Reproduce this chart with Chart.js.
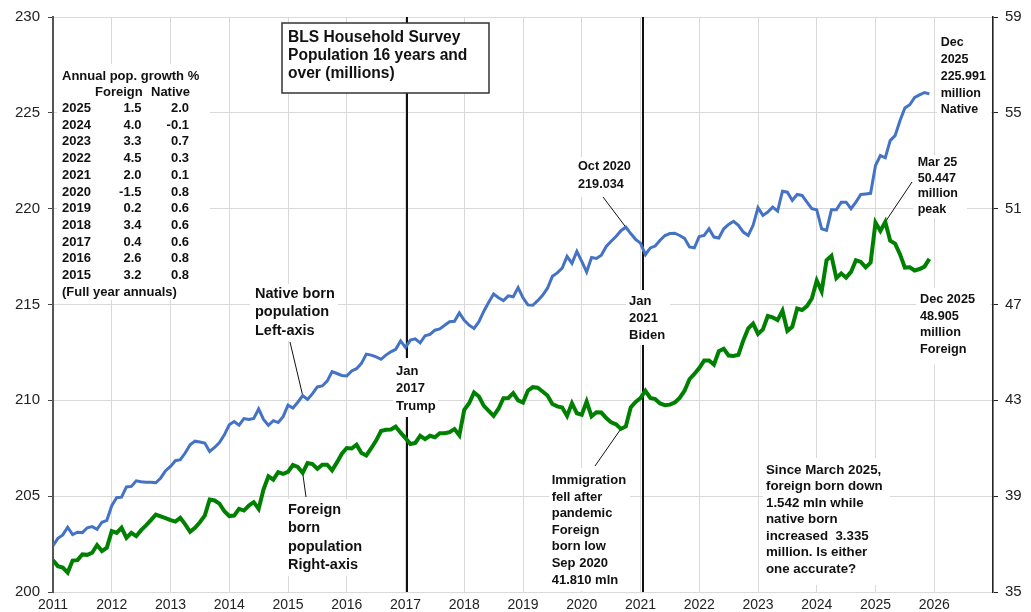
<!DOCTYPE html>
<html>
<head>
<meta charset="utf-8">
<script src="https://cdn.jsdelivr.net/npm/chart.js@4.4.1/dist/chart.umd.min.js"></script>
<style>
  html, body { margin: 0; padding: 0; background: #fff; }
  canvas { display: block; }
</style>
</head>
<body>
<canvas id="grafico" width="1031" height="612"></canvas>
<script>
// Popolazione nativa (milioni, asse sinistro), mensile gen 2011 - dic 2025
const nativeBorn = [
  202.42, 202.80, 202.98, 203.38, 203.00, 203.12, 203.10, 203.35, 203.41, 203.27, 203.64, 203.74,
  204.50, 204.92, 204.95, 205.48, 205.51, 205.80, 205.75, 205.73, 205.72, 205.70, 205.95, 206.33,
  206.55, 206.85, 206.90, 207.25, 207.68, 207.87, 207.83, 207.77, 207.33, 207.54, 207.80, 208.20,
  208.72, 208.89, 208.70, 209.05, 209.00, 209.05, 209.55, 209.00, 208.70, 208.94, 208.84, 209.15,
  209.75, 209.60, 209.90, 210.25, 210.05, 210.35, 210.70, 210.75, 211.00, 211.50, 211.40, 211.30,
  211.27, 211.53, 211.65, 211.93, 212.41, 212.36, 212.27, 212.14, 212.36, 212.53, 212.66, 213.10,
  212.76, 213.14, 213.21, 213.00, 213.37, 213.44, 213.66, 213.73, 213.92, 214.10, 214.12, 214.56,
  214.18, 213.92, 213.75, 214.10, 214.65, 215.12, 215.55, 215.35, 215.20, 215.45, 215.40, 215.88,
  215.35, 214.98, 214.96, 215.20, 215.48, 215.85, 216.47, 216.65, 216.90, 217.51, 217.15, 217.77,
  217.25, 216.70, 217.45, 217.40, 217.57, 218.03, 218.30, 218.55, 218.85, 219.034, 218.70, 218.40,
  218.20, 217.60, 217.95, 218.05, 218.35, 218.60, 218.70, 218.72, 218.60, 218.45, 218.00, 217.96,
  218.55, 218.60, 218.95, 218.52, 218.47, 218.95, 219.18, 219.34, 219.13, 218.78, 218.60, 219.13,
  220.05, 219.65, 219.82, 220.08, 219.87, 220.91, 220.86, 220.43, 220.74, 220.69, 220.34, 220.00,
  219.94, 218.95, 218.87, 219.94, 219.94, 220.34, 220.34, 220.00, 220.34, 220.74, 220.77, 220.80,
  222.25, 222.77, 222.656, 223.55, 223.81, 224.59, 225.25, 225.42, 225.80, 225.94, 226.06, 225.991
];

// Popolazione nata all'estero (milioni, asse destro)
const foreignBorn = [
  36.32, 36.08, 36.02, 35.81, 36.31, 36.33, 36.57, 36.55, 36.64, 36.96, 36.71, 36.85,
  37.54, 37.47, 37.68, 37.26, 37.47, 37.33, 37.58, 37.78, 38.00, 38.23, 38.16, 38.08,
  38.00, 37.94, 38.10, 37.82, 37.51, 37.68, 37.91, 38.19, 38.86, 38.82, 38.69, 38.37,
  38.17, 38.19, 38.47, 38.40, 38.61, 38.75, 38.47, 39.28, 39.83, 39.69, 40.00, 39.93,
  40.01, 40.30, 40.22, 39.97, 40.38, 40.34, 40.14, 40.31, 40.31, 40.08, 40.41, 40.77,
  41.01, 40.99, 41.15, 40.80, 40.70, 41.00, 41.32, 41.72, 41.77, 41.78, 41.90, 41.65,
  41.42, 41.18, 41.22, 41.52, 41.38, 41.52, 41.46, 41.63, 41.63, 41.67, 41.80, 41.54,
  42.60, 42.88, 43.33, 43.16, 42.77, 42.56, 42.35, 42.65, 43.09, 43.10, 43.30, 43.00,
  42.91, 43.40, 43.55, 43.53, 43.37, 43.20, 42.85, 42.75, 42.70, 42.35, 42.88, 42.46,
  42.40, 42.95, 42.33, 42.50, 42.49, 42.26, 42.08, 42.00, 41.81, 41.91, 42.70, 42.93,
  43.09, 43.40, 43.10, 43.05, 42.87, 42.80, 42.82, 42.91, 43.10, 43.40, 43.88, 44.10,
  44.35, 44.66, 44.66, 44.49, 45.05, 45.15, 44.87, 44.85, 44.90, 45.50, 46.00, 46.20,
  45.77, 45.96, 46.52, 46.46, 46.35, 46.74, 45.90, 46.07, 46.83, 46.77, 46.93, 47.25,
  48.00, 47.55, 48.85, 49.03, 48.10, 48.30, 48.12, 48.36, 48.85, 48.78, 48.55, 48.75,
  50.42, 50.07, 50.447, 49.66, 49.54, 49.10, 48.54, 48.55, 48.42, 48.48, 48.58, 48.905
];

// Tabella crescita annua
const growthYears = ["2025", "2024", "2023", "2022", "2021", "2020", "2019", "2018", "2017", "2016", "2015"];
const foreignGrowth = ["1.5", "4.0", "3.3", "4.5", "2.0", "-1.5", "0.2", "3.4", "0.4", "2.6", "3.2"];
const nativeGrowth = ["2.0", "-0.1", "0.7", "0.3", "0.1", "0.8", "0.6", "0.6", "0.6", "0.8", "0.8"];

// Insediamenti (linee verticali)
const eventDates = [2017.03, 2021.04];

const startYear = 2011;
const months = nativeBorn.map((_, i) => startYear + i / 12);

const FONT = '"Liberation Sans", Arial, sans-serif';
const INK = "#111";

// Note di testo (posizioni in pixel del riquadro)
const notes = [
  { box: [282, 23, 489, 93], border: true, x: 288, y: 37.3, step: 18.4, size: 15.6,
    lines: ["BLS Household Survey", "Population 16 years and", "over (millions)"] },
  { box: [250, 284, 338, 341], x: 255, y: 294, step: 18.3, size: 14.5,
    lines: ["Native born", "population", "Left-axis"] },
  { box: [283, 499, 366, 576], x: 288, y: 510, step: 18.3, size: 14.5,
    lines: ["Foreign", "born", "population", "Right-axis"] },
  { box: [393, 358, 438, 417], x: 396, y: 371, step: 17.5, size: 13,
    lines: ["Jan", "2017", "Trump"] },
  { box: [626, 290, 670, 345], x: 629, y: 301.7, step: 16.7, size: 13,
    lines: ["Jan", "2021", "Biden"] },
  { box: [575, 157, 630, 197], x: 578, y: 166.7, step: 17.3, size: 12.7,
    lines: ["Oct 2020", "219.034"] },
  { box: [549, 468, 630, 591], x: 551.7, y: 480.7, step: 16.55, size: 13,
    lines: ["Immigration", "fell after", "pandemic", "Foreign", "born low", "Sep 2020", "41.810 mln"] },
  { box: [937, 30, 991, 120], x: 940.7, y: 42.7, step: 16.8, size: 12.5,
    lines: ["Dec", "2025", "225.991", "million", "Native"] },
  { box: [913, 155, 967, 218], x: 917.7, y: 162.7, step: 15.5, size: 12.5,
    lines: ["Mar 25", "50.447", "million", "peak"] },
  { box: [916, 288, 990, 365], x: 920, y: 299.3, step: 16.8, size: 12.7,
    lines: ["Dec 2025", "48.905", "million", "Foreign"] },
  { box: [763, 458, 890, 585], x: 766, y: 470, step: 16.55, size: 13.3,
    lines: ["Since March 2025,", "foreign born down", "1.542 mln while", "native born",
            "increased  3.335", "million. Is either", "one accurate?"] }
];

// Linee guida: da (x, y) al punto della serie (dataset, mese)
const leaders = [
  { from: [290, 342], dataset: 0, index: 51 },
  { from: [306, 497], dataset: 1, index: 51 },
  { from: [603, 197], dataset: 0, index: 117 },
  { from: [595, 466], dataset: 1, index: 116 },
  { from: [912, 182], dataset: 1, index: 170 }
];

function drawNote(ctx, n) {
  const [x0, y0, x1, y1] = n.box;
  ctx.fillStyle = "#fff";
  ctx.fillRect(x0, y0, x1 - x0, y1 - y0);
  if (n.border) {
    ctx.strokeStyle = "#333";
    ctx.lineWidth = 1.5;
    ctx.strokeRect(x0, y0, x1 - x0, y1 - y0);
  }
  ctx.fillStyle = INK;
  ctx.font = `bold ${n.size}px ${FONT}`;
  ctx.textAlign = "left";
  ctx.textBaseline = "middle";
  n.lines.forEach((t, i) => ctx.fillText(t, n.x, n.y + i * n.step));
}

function drawTable(ctx) {
  ctx.fillStyle = "#fff";
  ctx.fillRect(57, 64, 153, 236);
  ctx.fillStyle = INK;
  ctx.font = `bold 13px ${FONT}`;
  ctx.textBaseline = "middle";
  ctx.textAlign = "left";
  ctx.fillText("Annual pop. growth %", 62, 76);
  ctx.fillText("Foreign", 95, 92.5);
  ctx.fillText("Native", 151, 92.5);
  growthYears.forEach((yr, i) => {
    const y = 108.5 + i * 16.7;
    ctx.textAlign = "left";
    ctx.fillText(yr, 62, y);
    ctx.textAlign = "right";
    ctx.fillText(foreignGrowth[i], 141.5, y);
    ctx.fillText(nativeGrowth[i], 189, y);
  });
  ctx.textAlign = "left";
  ctx.fillText("(Full year annuals)", 62, 108.5 + 11 * 16.7);
}

const annotazioni = {
  id: "annotazioni",
  beforeDatasetsDraw(chart) {
    const { ctx, chartArea, scales } = chart;
    ctx.save();
    // linee verticali degli insediamenti
    ctx.strokeStyle = "#111";
    ctx.lineWidth = 2;
    eventDates.forEach(d => {
      const x = Math.round(scales.x.getPixelForValue(d));
      ctx.beginPath();
      ctx.moveTo(x, chartArea.top);
      ctx.lineTo(x, chartArea.bottom);
      ctx.stroke();
    });
    drawTable(ctx);
    notes.forEach(n => drawNote(ctx, n));
    // linee guida
    ctx.strokeStyle = "#111";
    ctx.lineWidth = 1;
    leaders.forEach(l => {
      const p = chart.getDatasetMeta(l.dataset).data[l.index];
      ctx.beginPath();
      ctx.moveTo(l.from[0], l.from[1]);
      ctx.lineTo(p.x, p.y);
      ctx.stroke();
    });
    ctx.restore();
  }
};

const ctx = document.getElementById("grafico").getContext("2d");

new Chart(ctx, {
  type: "line",
  data: {
    datasets: [
      {
        label: "Native born",
        data: months.map((t, i) => ({ x: t, y: nativeBorn[i] })),
        yAxisID: "y",
        borderColor: "#4472c4",
        borderWidth: 3,
        pointRadius: 0,
        tension: 0
      },
      {
        label: "Foreign born",
        data: months.map((t, i) => ({ x: t, y: foreignBorn[i] })),
        yAxisID: "y2",
        borderColor: "#008000",
        borderWidth: 4,
        pointRadius: 0,
        tension: 0
      }
    ]
  },
  options: {
    responsive: false,
    animation: false,
    devicePixelRatio: 1,
    layout: { padding: { top: 16, right: 0, bottom: 0, left: 0 } },
    plugins: { legend: { display: false }, tooltip: { enabled: false } },
    scales: {
      x: {
        type: "linear",
        min: 2011,
        max: 2027,
        afterBuildTicks: s => {
          s.ticks = [];
          for (let v = 2011; v <= 2027; v++) s.ticks.push({ value: v });
        },
        afterFit: s => { s.height = 20; },
        ticks: {
          callback: v => (v === 2027 ? "" : String(v)),
          font: { family: FONT, size: 14 },
          color: "#222",
          padding: 5,
          maxRotation: 0,
          autoSkip: false
        },
        grid: { color: "#d9d9d9", drawTicks: false },
        border: { color: "#d9d9d9" }
      },
      y: {
        position: "left",
        min: 200,
        max: 230,
        afterFit: s => { s.width = 53; },
        ticks: {
          stepSize: 5,
          font: { family: FONT, size: 15 },
          color: "#222",
          padding: 8
        },
        grid: { color: "#d9d9d9", tickColor: "#444", tickLength: 5 },
        border: { color: "#555", width: 2 }
      },
      y2: {
        position: "right",
        min: 35,
        max: 59,
        afterFit: s => { s.width = 38; },
        ticks: {
          stepSize: 4,
          font: { family: FONT, size: 15 },
          color: "#222",
          padding: 7
        },
        grid: { drawOnChartArea: false, tickColor: "#222", tickLength: 5 },
        border: { color: "#222", width: 1.5 }
      }
    }
  },
  plugins: [annotazioni]
});
</script>
</body>
</html>
